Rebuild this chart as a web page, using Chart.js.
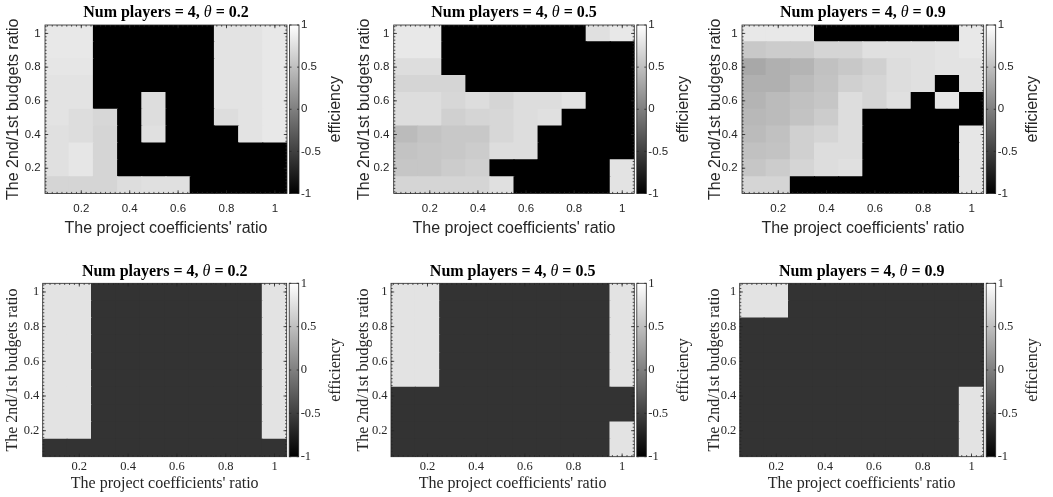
<!DOCTYPE html>
<html lang="en">
<head>
<meta charset="UTF-8">
<title>Efficiency maps</title>
<script src="https://cdn.jsdelivr.net/npm/chart.js@4.4.1/dist/chart.umd.min.js"></script>
<style>
  body { margin: 0; background: #fff; }
  #wrap { position: relative; width: 1053px; height: 497px; }
  #wrap canvas { position: absolute; }
</style>
</head>
<body>
<div id="wrap">
  <canvas id="p1" width="351" height="250" style="left:0;top:0"></canvas>
  <canvas id="p2" width="351" height="250" style="left:351px;top:0"></canvas>
  <canvas id="p3" width="351" height="250" style="left:702px;top:0"></canvas>
  <canvas id="p4" width="351" height="247" style="left:0;top:250px"></canvas>
  <canvas id="p5" width="351" height="247" style="left:351px;top:250px"></canvas>
  <canvas id="p6" width="351" height="247" style="left:702px;top:250px"></canvas>
</div>
<script>
// grid axes
const xValues = [0.1, 0.2, 0.3, 0.4, 0.5, 0.6, 0.7, 0.8, 0.9, 1.0];
const yValues = [0.1, 0.2, 0.3, 0.4, 0.5, 0.6, 0.7, 0.8, 0.9, 1.0];
const xTickValues = [0.2, 0.4, 0.6, 0.8, 1.0];
const xTickLabels = ['0.2', '0.4', '0.6', '0.8', '1'];
const yTicks = [0.2, 0.4, 0.6, 0.8, 1.0];
const yTickLabels = ['0.2', '0.4', '0.6', '0.8', '1'];
const cbTicks = [-1, -0.5, 0, 0.5, 1];
const cbTickLabels = ['-1', '-0.5', '0', '0.5', '1'];
const thetas = [0.2, 0.5, 0.9];

// efficiency, rows from y = 1.0 (top) down to y = 0.1
const effA02 = [
  [0.82, 0.82, -1, -1, -1, -1, -1, 0.78, 0.78, 0.82],
  [0.82, 0.82, -1, -1, -1, -1, -1, 0.78, 0.78, 0.82],
  [0.80, 0.80, -1, -1, -1, -1, -1, 0.78, 0.78, 0.82],
  [0.78, 0.78, -1, -1, -1, -1, -1, 0.78, 0.78, 0.82],
  [0.78, 0.78, -1, -1, 0.73, -1, -1, 0.78, 0.78, 0.82],
  [0.78, 0.73, 0.69, -1, 0.73, -1, -1, 0.73, 0.78, 0.82],
  [0.76, 0.73, 0.67, -1, 0.76, -1, -1, -1, 0.78, 0.82],
  [0.76, 0.80, 0.67, -1, -1, -1, -1, -1, -1, -1],
  [0.76, 0.80, 0.67, -1, -1, -1, -1, -1, -1, -1],
  [0.67, 0.67, 0.67, 0.73, 0.76, 0.76, -1, -1, -1, -1]
];
const effA05 = [
  [0.82, 0.82, -1, -1, -1, -1, -1, -1, 0.76, 0.82],
  [0.82, 0.82, -1, -1, -1, -1, -1, -1, -1, -1],
  [0.73, 0.73, -1, -1, -1, -1, -1, -1, -1, -1],
  [0.67, 0.67, 0.67, -1, -1, -1, -1, -1, -1, -1],
  [0.73, 0.73, 0.69, 0.73, 0.67, 0.73, 0.73, 0.78, -1, -1],
  [0.73, 0.73, 0.63, 0.67, 0.69, 0.73, 0.76, -1, -1, -1],
  [0.47, 0.53, 0.57, 0.57, 0.69, 0.73, -1, -1, -1, -1],
  [0.53, 0.55, 0.57, 0.60, 0.73, 0.73, -1, -1, -1, -1],
  [0.55, 0.55, 0.60, 0.63, -1, -1, -1, -1, -1, 0.78],
  [0.67, 0.67, 0.67, 0.67, 0.76, -1, -1, -1, -1, 0.78]
];
const effA09 = [
  [0.82, 0.82, 0.82, -1, -1, -1, -1, -1, -1, 0.82],
  [0.57, 0.60, 0.60, 0.67, 0.67, 0.76, 0.76, 0.76, 0.78, 0.82],
  [0.32, 0.38, 0.41, 0.51, 0.57, 0.63, 0.73, 0.76, 0.78, 0.78],
  [0.38, 0.38, 0.47, 0.53, 0.63, 0.67, 0.73, 0.76, -1, 0.78],
  [0.41, 0.47, 0.51, 0.55, 0.73, 0.67, 0.76, -1, 0.80, -1],
  [0.44, 0.47, 0.53, 0.60, 0.73, -1, -1, -1, -1, -1],
  [0.47, 0.51, 0.63, 0.67, 0.73, -1, -1, -1, -1, 0.80],
  [0.51, 0.53, 0.63, 0.73, 0.73, -1, -1, -1, -1, 0.80],
  [0.55, 0.60, 0.67, 0.73, 0.76, -1, -1, -1, -1, 0.80],
  [0.67, 0.67, -1, -1, -1, -1, -1, -1, -1, 0.80]
];
const effB02 = [
  [0.78, 0.78, -0.6, -0.6, -0.6, -0.6, -0.6, -0.6, -0.6, 0.78],
  [0.78, 0.78, -0.6, -0.6, -0.6, -0.6, -0.6, -0.6, -0.6, 0.78],
  [0.78, 0.78, -0.6, -0.6, -0.6, -0.6, -0.6, -0.6, -0.6, 0.78],
  [0.78, 0.78, -0.6, -0.6, -0.6, -0.6, -0.6, -0.6, -0.6, 0.78],
  [0.78, 0.78, -0.6, -0.6, -0.6, -0.6, -0.6, -0.6, -0.6, 0.78],
  [0.78, 0.78, -0.6, -0.6, -0.6, -0.6, -0.6, -0.6, -0.6, 0.78],
  [0.78, 0.78, -0.6, -0.6, -0.6, -0.6, -0.6, -0.6, -0.6, 0.78],
  [0.78, 0.78, -0.6, -0.6, -0.6, -0.6, -0.6, -0.6, -0.6, 0.78],
  [0.78, 0.78, -0.6, -0.6, -0.6, -0.6, -0.6, -0.6, -0.6, 0.78],
  [-0.6, -0.6, -0.6, -0.6, -0.6, -0.6, -0.6, -0.6, -0.6, -0.6]
];
const effB05 = [
  [0.78, 0.78, -0.6, -0.6, -0.6, -0.6, -0.6, -0.6, -0.6, 0.78],
  [0.78, 0.78, -0.6, -0.6, -0.6, -0.6, -0.6, -0.6, -0.6, 0.78],
  [0.78, 0.78, -0.6, -0.6, -0.6, -0.6, -0.6, -0.6, -0.6, 0.78],
  [0.78, 0.78, -0.6, -0.6, -0.6, -0.6, -0.6, -0.6, -0.6, 0.78],
  [0.78, 0.78, -0.6, -0.6, -0.6, -0.6, -0.6, -0.6, -0.6, 0.78],
  [0.78, 0.78, -0.6, -0.6, -0.6, -0.6, -0.6, -0.6, -0.6, 0.78],
  [-0.6, -0.6, -0.6, -0.6, -0.6, -0.6, -0.6, -0.6, -0.6, -0.6],
  [-0.6, -0.6, -0.6, -0.6, -0.6, -0.6, -0.6, -0.6, -0.6, -0.6],
  [-0.6, -0.6, -0.6, -0.6, -0.6, -0.6, -0.6, -0.6, -0.6, 0.78],
  [-0.6, -0.6, -0.6, -0.6, -0.6, -0.6, -0.6, -0.6, -0.6, 0.78]
];
const effB09 = [
  [0.78, 0.78, -0.6, -0.6, -0.6, -0.6, -0.6, -0.6, -0.6, -0.6],
  [0.78, 0.78, -0.6, -0.6, -0.6, -0.6, -0.6, -0.6, -0.6, -0.6],
  [-0.6, -0.6, -0.6, -0.6, -0.6, -0.6, -0.6, -0.6, -0.6, -0.6],
  [-0.6, -0.6, -0.6, -0.6, -0.6, -0.6, -0.6, -0.6, -0.6, -0.6],
  [-0.6, -0.6, -0.6, -0.6, -0.6, -0.6, -0.6, -0.6, -0.6, -0.6],
  [-0.6, -0.6, -0.6, -0.6, -0.6, -0.6, -0.6, -0.6, -0.6, -0.6],
  [-0.6, -0.6, -0.6, -0.6, -0.6, -0.6, -0.6, -0.6, -0.6, 0.78],
  [-0.6, -0.6, -0.6, -0.6, -0.6, -0.6, -0.6, -0.6, -0.6, 0.78],
  [-0.6, -0.6, -0.6, -0.6, -0.6, -0.6, -0.6, -0.6, -0.6, 0.78],
  [-0.6, -0.6, -0.6, -0.6, -0.6, -0.6, -0.6, -0.6, -0.6, 0.78]
];

const INK = '#262626';

// two text styles: sans labels on the upper row, serif on the lower one
const styles = {
  sans: {
    family: 'Liberation Sans',
    tick: { family: 'Liberation Sans', size: 11.5 },
    label: { family: 'Liberation Sans', size: 16 },
    xTickPad: 8, yTickPad: 4.3, xTitlePad: 12.1,
    top: 25, titleY: 12.6
  },
  serif: {
    family: 'Liberation Serif',
    tick: { family: 'Liberation Serif', size: 12.5 },
    label: { family: 'Liberation Serif', size: 16 },
    xTickPad: 3, yTickPad: 3.4, xTitlePad: 3.9,
    top: 33.3, titleY: 22
  }
};

// gray colormap, -1 -> black, 1 -> white
function grayOf(v) {
  const g = Math.round((v + 1) / 2 * 255);
  return `rgb(${g},${g},${g})`;
}

// box, inward ticks, colorbar, its label and the panel title
function makeFrame(st, theta) {
  return {
    id: 'frame',
    afterDatasetsDraw(chart) {
      const { ctx, chartArea: a, scales: { x, y, cb } } = chart;
      const xPix = v => x.getPixelForValue((v - xValues[0]) / (xValues[1] - xValues[0]));
      ctx.save();
      ctx.strokeStyle = INK;
      ctx.lineWidth = 0.8;
      ctx.beginPath();
      // minor ticks
      for (let k = 3; k <= 52; k++) {
        const v = k * 0.02;
        const px = xPix(v), py = y.getPixelForValue(v);
        ctx.moveTo(px, a.bottom); ctx.lineTo(px, a.bottom - 1.6);
        ctx.moveTo(px, a.top); ctx.lineTo(px, a.top + 1.6);
        ctx.moveTo(a.left, py); ctx.lineTo(a.left + 1.6, py);
        ctx.moveTo(a.right, py); ctx.lineTo(a.right - 1.6, py);
      }
      // major ticks
      xTickValues.forEach(v => {
        const px = xPix(v);
        ctx.moveTo(px, a.bottom); ctx.lineTo(px, a.bottom - 3.2);
        ctx.moveTo(px, a.top); ctx.lineTo(px, a.top + 3.2);
      });
      yTicks.forEach(v => {
        const py = y.getPixelForValue(v);
        ctx.moveTo(a.left, py); ctx.lineTo(a.left + 3.2, py);
        ctx.moveTo(a.right, py); ctx.lineTo(a.right - 3.2, py);
      });
      ctx.stroke();
      ctx.strokeRect(a.left, a.top, a.right - a.left, a.bottom - a.top);

      // colorbar
      const bx = a.right + 2.5, bw = 9.5;
      const grad = ctx.createLinearGradient(0, cb.getPixelForValue(-1), 0, cb.getPixelForValue(1));
      grad.addColorStop(0, grayOf(-1));
      grad.addColorStop(1, grayOf(1));
      ctx.fillStyle = grad;
      ctx.fillRect(bx, a.top, bw, a.bottom - a.top);
      ctx.strokeRect(bx, a.top, bw, a.bottom - a.top);
      ctx.beginPath();
      cbTicks.forEach(v => {
        const py = cb.getPixelForValue(v);
        ctx.moveTo(bx + bw, py); ctx.lineTo(bx + bw - 2, py);
        ctx.moveTo(bx, py); ctx.lineTo(bx + 2, py);
      });
      ctx.stroke();

      // title: bold text with an italic theta
      const parts = [
        ['Num players = 4, ', 'bold 16px "Liberation Serif"'],
        ['θ', 'italic 16px "Liberation Serif"'],
        [` = ${theta}`, 'bold 16px "Liberation Serif"']
      ];
      ctx.fillStyle = '#000';
      ctx.textBaseline = 'middle';
      ctx.textAlign = 'left';
      let total = 0;
      parts.forEach(([t, f]) => { ctx.font = f; total += ctx.measureText(t).width; });
      let tx = (a.left + a.right) / 2 - total / 2;
      parts.forEach(([t, f]) => {
        ctx.font = f;
        ctx.fillText(t, tx, st.titleY);
        tx += ctx.measureText(t).width;
      });

      // colorbar label
      ctx.translate(a.right + 49, (a.top + a.bottom) / 2);
      ctx.rotate(-Math.PI / 2);
      ctx.fillStyle = INK;
      ctx.textAlign = 'center';
      ctx.font = `16px "${st.family}"`;
      ctx.fillText('efficiency', 0, 0);
      ctx.restore();
    }
  };
}

function makePanel(id, grid, theta, st, box, h) {
  const datasets = yValues.map((yv, r) => {
    const row = grid[grid.length - 1 - r];
    return {
      label: String(yv),
      data: xValues.map(() => [yv - 0.05, yv + 0.05]),
      backgroundColor: row.map(grayOf),
      borderWidth: 0,
      inflateAmount: 0.5,
      grouped: false,
      categoryPercentage: 1,
      barPercentage: 1
    };
  });

  new Chart(document.getElementById(id), {
    type: 'bar',
    data: { labels: xValues.map(String), datasets },
    plugins: [makeFrame(st, theta)],
    options: {
      responsive: false,
      animation: false,
      devicePixelRatio: 1,
      layout: { padding: { top: st.top, left: 0, right: 0, bottom: 0 } },
      plugins: {
        legend: { display: false },
        tooltip: { enabled: false },
        title: { display: false }
      },
      scales: {
        x: {
          type: 'category',
          offset: true,
          grid: { display: false, drawTicks: false },
          border: { display: false },
          ticks: {
            autoSkip: false, maxRotation: 0, minRotation: 0,
            padding: st.xTickPad, color: INK, font: st.tick,
            callback: (v) => {
              const k = xTickValues.indexOf(xValues[v]);
              return k >= 0 ? xTickLabels[k] : '';
            }
          },
          title: {
            display: true, text: "The project coefficients' ratio",
            color: INK, font: { ...st.label, lineHeight: 1.2 },
            padding: { top: 0, bottom: st.xTitlePad }
          },
          afterFit: s => { s.height = h - box.bottom; }
        },
        y: {
          type: 'linear', min: 0.05, max: 1.05,
          afterBuildTicks: s => { s.ticks = yTicks.map(v => ({ value: v })); },
          grid: { display: false, drawTicks: false },
          border: { display: false },
          ticks: {
            padding: st.yTickPad, color: INK, font: st.tick,
            callback: (v, i) => yTickLabels[i]
          },
          title: {
            display: true, text: 'The 2nd/1st budgets ratio',
            color: INK, font: { ...st.label, lineHeight: 1.2 },
            padding: { top: 3.5, bottom: 0 }
          },
          afterFit: s => { s.width = box.left; }
        },
        cb: {
          type: 'linear', position: 'right', min: -1, max: 1,
          afterBuildTicks: s => { s.ticks = cbTicks.map(v => ({ value: v })); },
          grid: { display: false, drawTicks: false },
          border: { display: false },
          ticks: {
            padding: 14, color: INK, font: st.tick,
            callback: (v, i) => cbTickLabels[i]
          },
          afterFit: s => { s.width = 351 - box.right; }
        }
      }
    }
  });
}

makePanel('p1', effA02, thetas[0], styles.sans, { left: 45, right: 287, bottom: 193.5 }, 250);
makePanel('p2', effA05, thetas[1], styles.sans, { left: 42.7, right: 283.3, bottom: 193.5 }, 250);
makePanel('p3', effA09, thetas[2], styles.sans, { left: 40, right: 281.7, bottom: 193.5 }, 250);
makePanel('p4', effB02, thetas[0], styles.serif, { left: 42.7, right: 286.7, bottom: 206.7 }, 247);
makePanel('p5', effB05, thetas[1], styles.serif, { left: 40, right: 283.3, bottom: 206.7 }, 247);
makePanel('p6', effB09, thetas[2], styles.serif, { left: 37.7, right: 281.7, bottom: 206.7 }, 247);
</script>
</body>
</html>
